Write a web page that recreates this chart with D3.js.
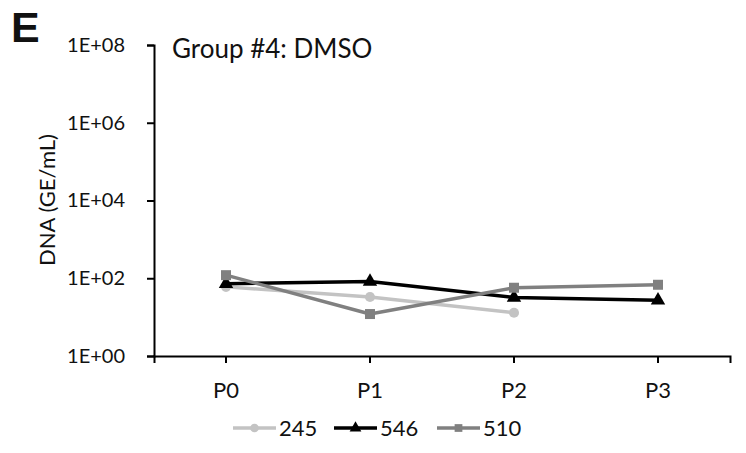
<!DOCTYPE html>
<html><head><meta charset="utf-8">
<script src="https://cdn.jsdelivr.net/npm/d3@7"></script>
<style>body{margin:0;background:#fff}svg{display:block}text{font-family:Lato,"Open Sans",sans-serif;fill:#111}</style>
</head><body><svg id="c" width="746" height="453"></svg>
<script>
const categories = ["P0","P1","P2","P3"];
const seriesNames = ["245","546","510"];
const s245 = [60, 33, 13, null];
const s546 = [72, 82, 32, 27];
const s510 = [120, 12, 57, 68];
const yTicks = [1, 100, 10000, 1000000, 100000000];
const yTickLabels = ["1E+00","1E+02","1E+04","1E+06","1E+08"];
const colors = ["#c3c3c3","#000000","#808080"];
const symbols = [d3.symbolCircle, d3.symbolTriangle, d3.symbolSquare];

const svg = d3.select("#c");
const x0 = 154, x1 = 730, yTop = 45, yBot = 356;
const x = d3.scaleBand().domain(categories).range([x0, x1]);
const y = d3.scaleLog().domain([1, 1e8]).range([yBot, yTop]);

// y axis
const ya = svg.append("g").attr("transform", `translate(${x0},0)`)
  .call(d3.axisLeft(y).tickValues(yTicks).tickFormat((d,i)=>yTickLabels[i]).tickSize(7).tickPadding(22));
ya.select(".domain").attr("stroke","#000").attr("stroke-width",2);
ya.selectAll(".tick line").attr("stroke","#000").attr("stroke-width",2);
ya.selectAll("text").style("font-size","20px").attr("fill","#111").style("font-family","Lato, 'Open Sans', sans-serif");

// x axis
const xa = svg.append("g").attr("transform", `translate(0,${yBot})`)
  .call(d3.axisBottom(x).tickSizeOuter(7).tickSizeInner(7).tickPadding(19));
xa.select(".domain").attr("stroke","#000").attr("stroke-width",2);
xa.selectAll(".tick line").attr("stroke","#000").attr("stroke-width",2);
xa.selectAll("text").style("font-size","22px").attr("fill","#111").style("font-family","Lato, 'Open Sans', sans-serif");

const series = [s245, s546, s510];
series.forEach((vals, i) => {
  const pts = vals.map((v, j) => ({c: categories[j], v})).filter(d => d.v != null);
  const line = d3.line().x(d => x(d.c) + x.bandwidth()/2).y(d => y(d.v));
  svg.append("path").datum(pts).attr("d", line).attr("fill","none")
    .attr("stroke", colors[i]).attr("stroke-width", 3.5).attr("stroke-linejoin","round");
  svg.selectAll(null).data(pts).enter().append("path")
    .attr("d", d3.symbol().type(symbols[i]).size(i===0?80:(i===1?90:100)))
    .attr("transform", d => `translate(${x(d.c)+x.bandwidth()/2},${y(d.v)})`)
    .attr("fill", colors[i]);
});

// title and panel letter
svg.append("text").attr("x", 11).attr("y", 42).text("E")
  .style("font-family","'Liberation Sans', Arial, sans-serif").style("font-weight","bold").style("font-size","43px").attr("fill","#000");
svg.append("text").attr("x", 172).attr("y", 58).text("Group #4: DMSO").style("font-size","26px");
svg.append("text").attr("transform","translate(55,200) rotate(-90)").attr("text-anchor","middle")
  .text("DNA (GE/mL)").style("font-size","22px");

// legend
const legX = [233, 334, 437];
seriesNames.forEach((n, i) => {
  const g = svg.append("g").attr("transform", `translate(${legX[i]},428)`);
  g.append("line").attr("x1",0).attr("x2",43).attr("y1",0).attr("y2",0).attr("stroke",colors[i]).attr("stroke-width",3.5);
  g.append("path").attr("d", d3.symbol().type(symbols[i]).size(60)).attr("transform","translate(21.5,0)").attr("fill",colors[i]);
  g.append("text").attr("x",46).attr("y",8).text(n).style("font-size","22px");
});
</script></body></html>
